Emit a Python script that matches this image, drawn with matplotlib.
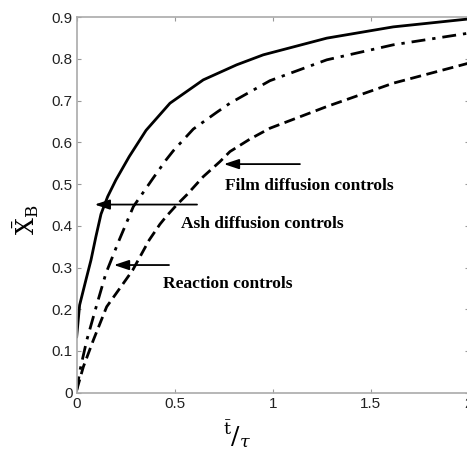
import matplotlib
matplotlib.use('Agg')
import matplotlib.pyplot as plt

# values
solid_x = [0.0, 0.015, 0.047, 0.073, 0.098, 0.124, 0.158, 0.200, 0.268, 0.354, 0.476,
           0.646, 0.816, 0.952, 1.276, 1.615, 2.0]
solid_y = [0.134, 0.210, 0.270, 0.318, 0.374, 0.428, 0.470, 0.510, 0.566, 0.629, 0.694,
           0.750, 0.786, 0.810, 0.850, 0.877, 0.896]

dashdot_x = [0.0, 0.017, 0.051, 0.102, 0.149, 0.217, 0.289, 0.391, 0.456, 0.493, 0.595,
             0.714, 0.782, 0.986, 1.276, 1.615, 2.0]
dashdot_y = [0.006, 0.054, 0.125, 0.210, 0.286, 0.366, 0.446, 0.515, 0.558, 0.580, 0.632,
             0.672, 0.694, 0.748, 0.798, 0.834, 0.862]

dashed_x = [0.0, 0.034, 0.085, 0.153, 0.238, 0.286, 0.370, 0.425, 0.456, 0.510, 0.561,
            0.646, 0.731, 0.782, 0.884, 0.986, 1.276, 1.615, 2.0]
dashed_y = [0.006, 0.062, 0.126, 0.206, 0.262, 0.294, 0.366, 0.404, 0.422, 0.450, 0.474,
            0.518, 0.554, 0.578, 0.608, 0.634, 0.686, 0.742, 0.790]

# annotations: text, text position, arrow tip, arrow tail
notes = ['Film diffusion controls', 'Ash diffusion controls', 'Reaction controls']
note_xy = [(0.755, 0.495), (0.532, 0.404), (0.439, 0.261)]
tip_xy = [(0.751, 0.548), (0.092, 0.451), (0.190, 0.306)]
tail_xy = [(1.139, 0.548), (0.614, 0.451), (0.471, 0.306)]

x_ticks = [0, 0.5, 1, 1.5, 2]
x_ticklabels = ['0', '0.5', '1', '1.5', '2']
y_ticks = [0, 0.1, 0.2, 0.3, 0.4, 0.5, 0.6, 0.7, 0.8, 0.9]
y_ticklabels = ['0', '0.1', '0.2', '0.3', '0.4', '0.5', '0.6', '0.7', '0.8', '0.9']

plt.rcParams['font.family'] = ['Liberation Sans', 'DejaVu Sans']
plt.rcParams['mathtext.fontset'] = 'dejavuserif'

fig = plt.figure(figsize=(4.67, 4.55), dpi=100)
ax = fig.add_axes([0.1642, 0.137, 0.8394, 0.825])

ax.plot(solid_x, solid_y, color='black', lw=2.0, linestyle='-')
ax.plot(dashdot_x, dashdot_y, color='black', lw=2.0, linestyle=(0, (5, 2.5, 1.2, 2.5)))
ax.plot(dashed_x, dashed_y, color='black', lw=2.0, linestyle=(0, (4, 2)))

for t, pos, tip, tail in zip(notes, note_xy, tip_xy, tail_xy):
    ax.annotate('', xy=tip, xytext=tail,
                arrowprops=dict(arrowstyle='-|>,head_length=0.9,head_width=0.3',
                                color='#444444', lw=1.3, shrinkA=0, shrinkB=0,
                                fc='black', ec='black'))
    ax.text(pos[0], pos[1], t, fontsize=12.5, fontweight='bold',
            family='Liberation Serif', va='center', ha='left')

ax.set_xlim(0, 2)
ax.set_ylim(0, 0.9)
ax.set_xticks(x_ticks)
ax.set_xticklabels(x_ticklabels)
ax.set_yticks(y_ticks)
ax.set_yticklabels(y_ticklabels)
ax.tick_params(direction='in', length=3, width=0.8, colors='#999999', labelcolor='#222222',
               labelsize=11, top=True, right=True, pad=3)
for s in ax.spines.values():
    s.set_color('#aaaaaa')
    s.set_linewidth(1.2)

ax.set_xlabel(r'$^{\bar{\mathrm{t}}}/_{\tau}$', fontsize=18)
ax.xaxis.set_label_coords(0.41, -0.07)
ax.set_ylabel(r'$\bar{\mathrm{X}}_{\mathrm{B}}$', fontsize=17)
ax.yaxis.set_label_coords(-0.09, 0.46)

fig.savefig('out.png', dpi=100)
